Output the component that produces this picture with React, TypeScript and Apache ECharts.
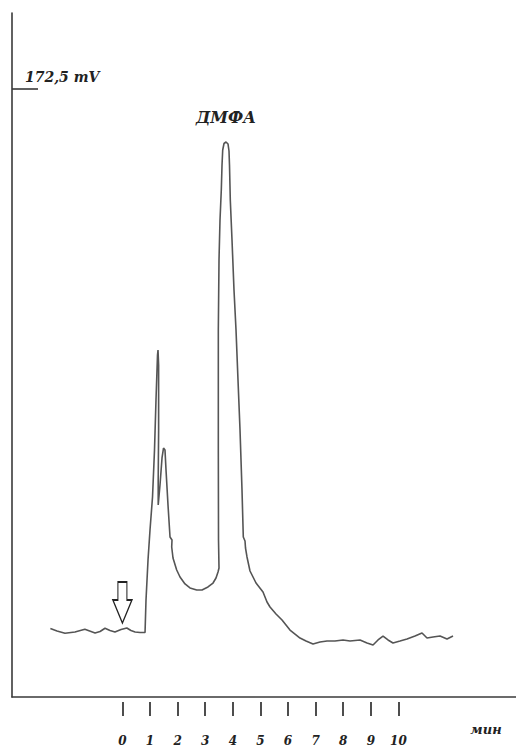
import React, { useEffect, useRef } from "react";
import * as echarts from "echarts";

// Retention time, min
const timeMin: number[] = [
  -2.61, -2.37, -2.08, -1.72, -1.36, -0.99, -0.81, -0.63, -0.45, -0.27, -0.05, 0.16, 0.31, 0.46, 0.64, 0.82,
  0.855, 0.928, 1.0, 1.091, 1.163, 1.217, 1.272, 1.29,
  1.312, 1.312, 1.297, 1.297,
  1.362, 1.435, 1.489, 1.543, 1.58, 1.652, 1.725, 1.797, 1.786, 1.833, 1.967, 2.087, 2.268, 2.449, 2.692, 2.884,
  3.101, 3.283, 3.391, 3.464, 3.5,
  3.482, 3.475, 3.475, 3.5, 3.536, 3.583, 3.609, 3.634, 3.681, 3.754, 3.826, 3.862, 3.88, 3.909, 3.971, 4.043,
  4.116, 4.188, 4.261, 4.333, 4.38, 4.442, 4.46, 4.514, 4.623, 4.841, 5.094, 5.239, 5.348, 5.565, 5.783, 6.072,
  6.435, 6.652, 6.906, 7.159, 7.413, 7.703, 7.993, 8.246, 8.609, 8.862, 9.08, 9.261, 9.442, 9.623, 9.804, 10.058,
  10.312, 10.601, 10.855, 11.036, 11.254, 11.507, 11.761, 11.978,
];

// Detector signal, mV
const signalMv: number[] = [
  19.43, 18.72, 18.07, 18.44, 19.2, 18.15, 18.58, 19.49, 18.86, 18.44, 19.15, 19.57, 18.86, 18.44, 18.29, 18.29,
  27.51, 38.86, 47.37, 56.73, 70.06, 84.24, 97.0, 98.42,
  94.17, 75.73, 61.55, 54.46,
  60.13, 67.79, 70.62, 70.06, 64.38, 54.46, 45.38, 44.53, 42.54, 39.42, 36.02, 34.04, 32.05, 30.92, 30.35, 30.35,
  31.2, 32.33, 33.75, 35.45, 36.59,
  44.53, 70.06, 104.09, 123.95, 135.29, 143.8, 150.89, 155.15, 156.99, 157.41, 156.85, 154.86, 150.89, 140.96, 129.62, 115.44,
  104.09, 89.91, 75.73, 58.71, 45.38, 44.25, 42.26, 39.71, 35.74, 32.33, 29.78, 26.94, 25.53, 23.54, 21.84, 19.0,
  16.73, 15.88, 15.03, 15.6, 15.88, 15.88, 16.17, 15.88, 16.17, 15.32, 14.75, 16.17, 17.3, 16.17, 15.32, 15.88,
  16.45, 17.3, 18.15, 16.73, 17.02, 17.3, 16.45, 17.3,
];

// Time axis tick labels, min
const timeTicks: number[] = [0, 1, 2, 3, 4, 5, 6, 7, 8, 9, 10];
// Signal scale mark, mV
const signalTicks: number[] = [172.5];
const signalTickLabel = "172,5 mV";
const peakName = "ДМФА";
const peakIndex = 58;
const injectionMark = { time: 0, signal: 26.8 };
const timeUnit = "мин";

const X_MIN = -4;
const X_MAX = 14.26;
const Y_MIN = 0;
const Y_MAX = 194;

const FONT = "DejaVu Serif";
const INK = "#222";
const AXIS = "#3a3a3a";
const TRACE = "#555";

const ARROW_PATH = "path://M5 0 L14 0 L14 18 L19 18 L9.5 41 L0 18 L5 18 Z";

const labelFont = {
  fontFamily: FONT,
  fontStyle: "italic",
  fontWeight: "bold",
  color: INK,
};

export default function App() {
  const ref = useRef<HTMLDivElement>(null);

  useEffect(() => {
    if (!ref.current) return;
    const chart = echarts.init(ref.current, null, { renderer: "svg" });

    const data = timeMin.map((t, i) => [t, signalMv[i]]);

    chart.setOption({
      animation: false,
      backgroundColor: "#fff",
      grid: {
        left: 12,
        right: 0,
        top: 13,
        bottom: 52,
        containLabel: false,
        outerBoundsMode: "none",
      },
      xAxis: [
        {
          type: "value",
          min: X_MIN,
          max: X_MAX,
          position: "bottom",
          axisLine: { show: true, onZero: false, lineStyle: { color: AXIS, width: 1.6 } },
          axisTick: { show: false },
          axisLabel: { show: false },
          splitLine: { show: false },
        },
        {
          type: "value",
          min: X_MIN,
          max: X_MAX,
          position: "bottom",
          offset: 5,
          axisLine: { show: false, onZero: false },
          axisTick: {
            show: true,
            length: 14,
            customValues: timeTicks,
            lineStyle: { color: AXIS, width: 1.8 },
          },
          axisLabel: {
            show: true,
            customValues: timeTicks,
            margin: 33,
            fontSize: 12,
            ...labelFont,
          },
          splitLine: { show: false },
        },
      ],
      yAxis: {
        type: "value",
        min: Y_MIN,
        max: Y_MAX,
        position: "left",
        axisLine: { show: true, onZero: false, lineStyle: { color: AXIS, width: 1.6 } },
        axisTick: {
          show: true,
          inside: true,
          length: 26,
          customValues: signalTicks,
          lineStyle: { color: AXIS, width: 1.6 },
        },
        axisLabel: {
          show: true,
          inside: true,
          customValues: signalTicks,
          formatter: () => signalTickLabel,
          margin: 13,
          verticalAlign: "bottom",
          padding: [0, 0, 5, 0],
          fontSize: 14,
          ...labelFont,
        },
        splitLine: { show: false },
      },
      series: [
        {
          type: "line",
          xAxisIndex: 0,
          data,
          showSymbol: false,
          symbol: "none",
          lineStyle: { color: TRACE, width: 1.6 },
          markPoint: {
            label: { show: false },
            data: [
              {
                // injection moment
                coord: [injectionMark.time, injectionMark.signal],
                symbol: ARROW_PATH,
                symbolSize: [19, 41],
                itemStyle: { color: "#fff", borderColor: INK, borderWidth: 1.5 },
              },
              {
                // main peak name
                coord: [timeMin[peakIndex], signalMv[peakIndex]],
                symbol: "circle",
                symbolSize: 0,
                itemStyle: { color: "transparent" },
                label: {
                  show: true,
                  position: "top",
                  distance: 17,
                  formatter: peakName,
                  fontSize: 16,
                  ...labelFont,
                },
              },
            ],
          },
        },
      ],
      graphic: [
        {
          type: "text",
          x: 486,
          y: 729,
          style: {
            text: timeUnit,
            fontFamily: FONT,
            fontStyle: "italic",
            fontWeight: "bold",
            fontSize: 13,
            fill: INK,
            textAlign: "center",
            textVerticalAlign: "middle",
          },
        },
      ],
    });

    return () => chart.dispose();
  }, []);

  return (
    <div
      ref={ref}
      style={{ position: "fixed", left: 0, top: 0, width: 516, height: 749, background: "#fff" }}
    />
  );
}
